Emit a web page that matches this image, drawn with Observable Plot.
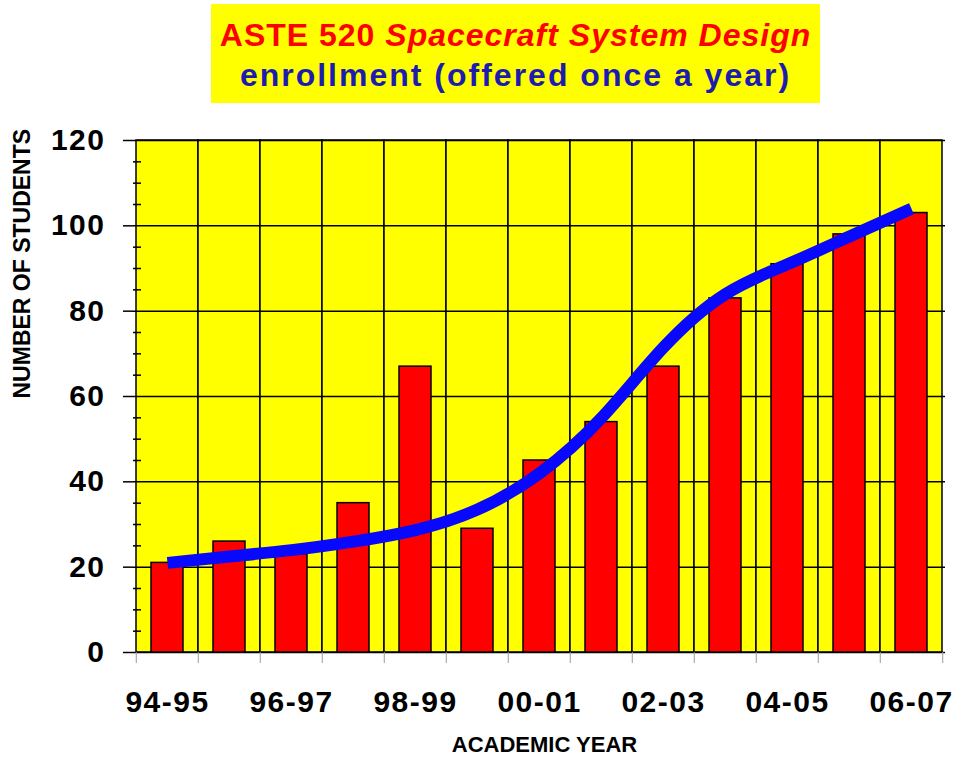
<!DOCTYPE html>
<html>
<head>
<meta charset="utf-8">
<script src="https://cdn.jsdelivr.net/npm/d3@7"></script>
<script src="https://cdn.jsdelivr.net/npm/@observablehq/plot@0.6"></script>
<style>
  html, body { margin: 0; padding: 0; background: #ffffff; }
  #wrap { position: relative; width: 957px; height: 763px; font-family: "Liberation Sans", Arial, sans-serif; }
  #titlebox { position: absolute; left: 211px; top: 4px; width: 609px; height: 99px; background: #ffff00; text-align: center; font-weight: bold; font-size: 32px; }
  #t1 { position: absolute; left: 0; right: 0; top: 13px; color: #ff0000; letter-spacing: 1px; line-height: 36px; white-space: nowrap; }
  #t2 { position: absolute; left: 0; right: 0; top: 53px; color: #1c1cb0; letter-spacing: 2px; line-height: 36px; white-space: nowrap; }
  #chart { position: absolute; left: 0; top: 0; }
  #chart [aria-label="y-axis tick label"] text, #chart [aria-label="x-axis tick label"] text { letter-spacing: 1.5px; }
</style>
</head>
<body>
<div id="wrap">
  <div id="chart"></div>
  <div id="titlebox">
    <div id="t1">ASTE 520 <i>Spacecraft System Design</i></div>
    <div id="t2">enrollment (offered once a year)</div>
  </div>
</div>
<script>
const categories = ["94-95","95-96","96-97","97-98","98-99","99-00","00-01","01-02","02-03","03-04","04-05","05-06","06-07"];
const enrollment = [21, 26, 23, 35, 67, 29, 45, 54, 67, 83, 91, 98, 103];
const trend = [21, 22.5, 24, 26, 28.7, 33.5, 42, 55, 71.5, 84, 91, 97.5, 104];
const yTicks = [0, 20, 40, 60, 80, 100, 120];
const yMinorTicks = [5, 10, 15, 25, 30, 35, 45, 50, 55, 65, 70, 75, 85, 90, 95, 105, 110, 115];
const xTickLabels = ["94-95","96-97","98-99","00-01","02-03","04-05","06-07"];
const yLabel = "NUMBER OF STUDENTS";
const xLabel = "ACADEMIC YEAR";

const bars = categories.map((c, i) => ({year: c, students: enrollment[i]}));
const trendData = categories.map((c, i) => ({year: c, value: trend[i]}));
const cells = categories.map(c => ({year: c, lo: 0, hi: 120}));

const W = 957, H = 763, mL = 133, mR = 12, mT = 140, mB = 111;
const step = (W - mL - mR) / categories.length;

const chart = Plot.plot({
  width: W, height: H,
  marginTop: mT, marginLeft: mL, marginRight: mR, marginBottom: mB,
  style: {fontFamily: "'Liberation Sans', Arial, sans-serif", background: "transparent", color: "black", overflow: "visible"},
  x: {domain: categories, paddingInner: 0.48, paddingOuter: 0.24, axis: null},
  y: {domain: [0, 120], axis: null},
  marks: [
    Plot.barY(cells, {x: "year", y1: "lo", y2: "hi", fill: "#ffff00", stroke: "black", strokeWidth: 1.5, insetLeft: -step * 0.24, insetRight: -step * 0.24}),
    Plot.ruleY(yTicks, {stroke: "black", strokeWidth: 1.5}),
    Plot.barY(bars, {x: "year", y: "students", fill: "#ff0000", stroke: "black", strokeWidth: 1.5}),
    Plot.line(trendData, {x: "year", y: "value", stroke: "#0808ff", strokeWidth: 12, curve: "natural", strokeLinecap: "butt", strokeLinejoin: "round"}),
    Plot.axisY({ticks: yTicks, tickSize: 10, tickPadding: 18, fontSize: 30, fontWeight: "bold", strokeWidth: 1.5, label: null}),
    Plot.axisY({ticks: yMinorTicks, tickSize: 8, dx: 8, tickFormat: () => "", strokeWidth: 1.5, label: null}),
    Plot.axisX({ticks: categories, tickSize: 11, dx: -step / 2, tickFormat: () => "", stroke: "#9a9a9a", label: null}),
    Plot.axisX({ticks: [categories[categories.length - 1]], tickSize: 11, dx: step / 2, tickFormat: () => "", stroke: "#9a9a9a", label: null}),
    Plot.axisX({ticks: xTickLabels, tickSize: 0, tickPadding: 38, fontSize: 30, fontWeight: "bold", label: null}),
    Plot.text([yLabel], {frameAnchor: "left", dx: -111, dy: 2, rotate: -90, fontSize: 23, fontWeight: "bold"}),
    Plot.text([xLabel], {frameAnchor: "bottom", dx: 5, dy: 99, fontSize: 22, fontWeight: "bold"})
  ]
});
document.getElementById("chart").appendChild(chart);
</script>
</body>
</html>
